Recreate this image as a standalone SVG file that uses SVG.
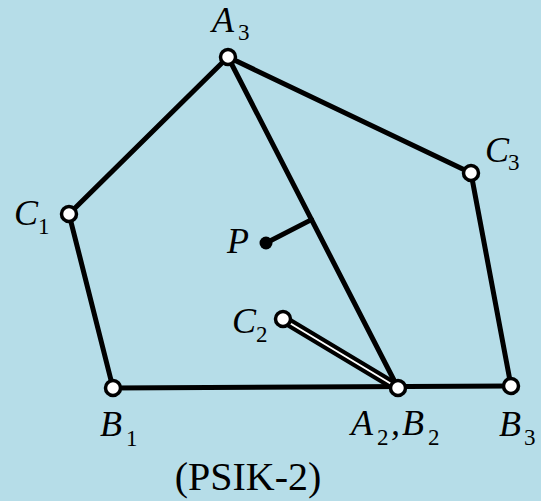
<svg xmlns="http://www.w3.org/2000/svg" width="541" height="501" viewBox="0 0 541 501">
<style>
.e{stroke:#000;stroke-width:5;fill:none;stroke-linecap:round}
.n{fill:#fff;stroke:#000;stroke-width:3.5}
.i{font-family:"Liberation Serif",serif;font-style:italic;font-size:36px;fill:#000}
.s{font-family:"Liberation Serif",serif;font-size:23px;fill:#000}
</style>
<rect width="541" height="501" fill="#b6dde8"/>
<g id="connectors">
<polyline class="e" points="228,57 471,173 511,386 113,388 69,214 228,57"/>
<line class="e" x1="228" y1="57" x2="398" y2="388"/>
<line class="e" x1="266" y1="243" x2="311.5" y2="219.6"/>
<line x1="283" y1="319" x2="398" y2="388" stroke="#000" stroke-width="10" stroke-linecap="round"/>
<line x1="283" y1="319" x2="398" y2="388" stroke="#fff" stroke-width="2"/>
</g>
<g id="A3"><circle class="n" cx="228" cy="57" r="7.5"/><text class="i" x="212" y="32">A</text><text class="s" x="238" y="40">3</text></g>
<g id="C3"><circle class="n" cx="471" cy="173" r="7.5"/><text class="i" x="485" y="162">C</text><text class="s" x="508" y="170">3</text></g>
<g id="C1"><circle class="n" cx="69" cy="214" r="7.5"/><text class="i" x="14" y="225">C</text><text class="s" x="38" y="234">1</text></g>
<g id="P"><circle cx="266" cy="243" r="6.5" fill="#000"/><text class="i" x="227" y="253">P</text></g>
<g id="C2"><circle class="n" cx="283" cy="319" r="7.5"/><text class="i" x="232" y="333">C</text><text class="s" x="256" y="342">2</text></g>
<g id="B1"><circle class="n" cx="113" cy="388" r="7.5"/><text class="i" x="100" y="436">B</text><text class="s" x="126" y="446">1</text></g>
<g id="A2B2"><circle class="n" cx="398" cy="388" r="7.5"/><text class="i" x="351" y="435">A</text><text class="s" x="377" y="445">2</text><text class="i" x="391" y="435">,</text><text class="i" x="402" y="435">B</text><text class="s" x="428" y="445">2</text></g>
<g id="B3"><circle class="n" cx="511" cy="386" r="7.5"/><text class="i" x="499" y="436">B</text><text class="s" x="524" y="445">3</text></g>
<text x="248" y="490" font-family="Liberation Serif, serif" font-size="40" text-anchor="middle" fill="#000">(PSIK-2)</text>
</svg>
